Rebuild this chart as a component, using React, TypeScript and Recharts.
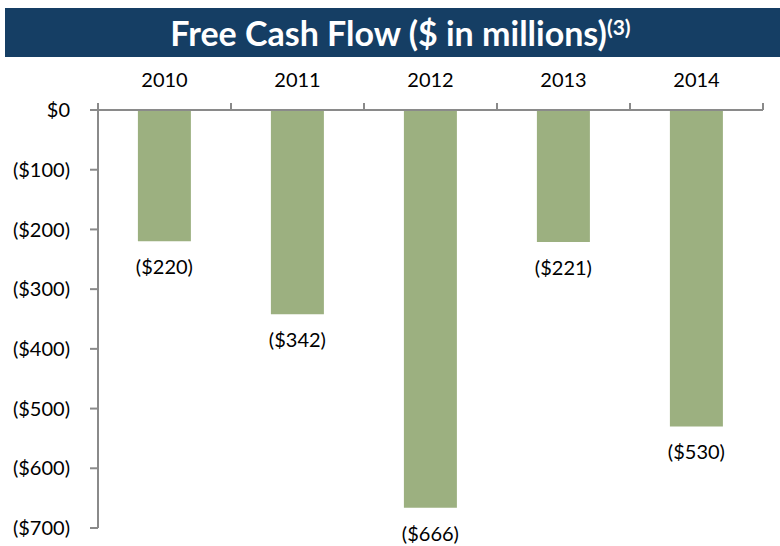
import { Bar, BarChart, LabelList, XAxis, YAxis } from "recharts";

const years = ["2010", "2011", "2012", "2013", "2014"];
const freeCashFlow = [-220, -342, -666, -221, -530];
const yTicks = [0, -100, -200, -300, -400, -500, -600, -700];

const data = years.map((year, i) => ({ year, fcf: freeCashFlow[i] }));

const FONT = "Lato, 'Open Sans', sans-serif";
const AXIS = "#8a8a8a";

const money = (v: number) => (v === 0 ? "$0" : v < 0 ? `($${-v})` : `$${v}`);

// category label above the axis, with Excel-style ticks on the band edges
function YearTick(props: any) {
  const { x, y, payload, index, visibleTicksCount } = props;
  const half = payload.offset ?? 0;
  const last = index === (visibleTicksCount ?? years.length) - 1;
  return (
    <g>
      <line x1={x - half} y1={y} x2={x - half} y2={y - 7} stroke={AXIS} strokeWidth={2} />
      {last && <line x1={x + half} y1={y} x2={x + half} y2={y - 7} stroke={AXIS} strokeWidth={2} />}
      <text x={x} y={y - 23} textAnchor="middle" fontSize={20} fontFamily={FONT} fill="#000">
        {payload.value}
      </text>
    </g>
  );
}

function BottomLabel(props: any) {
  const { x, y, width, height, value } = props;
  const bottom = Math.max(y, y + height);
  return (
    <text x={x + width / 2} y={bottom + 33} textAnchor="middle" fontSize={20} fontFamily={FONT} fill="#000">
      {money(value)}
    </text>
  );
}

export default function App() {
  return (
    <div style={{ position: "absolute", left: 0, top: 0, width: 780, height: 546, background: "#fff" }}>
      <div
        style={{
          position: "absolute",
          left: 5,
          top: 8,
          width: 775,
          height: 49,
          background: "#153e64",
          color: "#fff",
          fontFamily: FONT,
          fontWeight: 700,
          fontSize: 34,
          lineHeight: "49px",
          textAlign: "center",
        }}
      >
        <span style={{ position: "relative", left: 8 }}>
          Free Cash Flow ($ in millions)
          <sup style={{ fontSize: 21, verticalAlign: "top", lineHeight: "38px" }}>(3)</sup>
        </span>
      </div>
      <div style={{ position: "absolute", left: 0, top: 0 }}>
        <BarChart
          width={780}
          height={546}
          data={data}
          margin={{ top: 60, right: 17, bottom: 18, left: 0 }}
          barCategoryGap="30%"
        >
          <XAxis
            dataKey="year"
            orientation="top"
            height={50}
            tickLine={false}
            tickSize={0}
            tickMargin={0}
            axisLine={{ stroke: AXIS, strokeWidth: 2 }}
            tick={<YearTick />}
            interval={0}
          />
          <YAxis
            type="number"
            domain={[-700, 0]}
            ticks={yTicks}
            width={98}
            tickSize={8}
            tickMargin={20}
            tickFormatter={money}
            axisLine={{ stroke: AXIS, strokeWidth: 2 }}
            tickLine={{ stroke: AXIS, strokeWidth: 2 }}
            tick={{ fontSize: 20, fontFamily: FONT, fill: "#000" }}
          />
          <Bar dataKey="fcf" fill="#9cb080" isAnimationActive={false}>
            <LabelList dataKey="fcf" content={<BottomLabel />} />
          </Bar>
        </BarChart>
      </div>
    </div>
  );
}
